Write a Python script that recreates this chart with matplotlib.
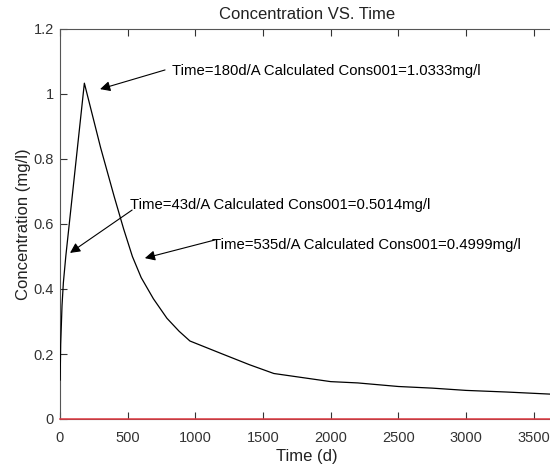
import matplotlib
matplotlib.use("Agg")
import matplotlib.pyplot as plt

plt.rcParams['font.family'] = ['Liberation Sans', 'DejaVu Sans']

# concentration curve
time_d = [1, 5, 15, 25, 43, 180, 300, 400, 470, 535, 600, 690, 790, 880, 960,
          1200, 1400, 1580, 2000, 2200, 2500, 2750, 3000, 3300, 3650]
conc = [0.12, 0.23, 0.35, 0.42, 0.5014, 1.0333, 0.835, 0.685, 0.585, 0.4999, 0.435,
        0.37, 0.31, 0.27, 0.24, 0.20, 0.167, 0.14, 0.115, 0.111, 0.10, 0.095,
        0.088, 0.083, 0.076]

notes_txt = ["Time=180d/A Calculated Cons001=1.0333mg/l",
             "Time=43d/A Calculated Cons001=0.5014mg/l",
             "Time=535d/A Calculated Cons001=0.4999mg/l"]
# where each label starts, and where its arrow runs from / to
text_xy = [(828, 1.071), (518, 0.658), (1124, 0.535)]
arrow_from = [(776, 1.074), (533, 0.643), (1146, 0.551)]
arrow_to = [(296, 1.015), (74, 0.511), (627, 0.495)]

xticks = [0, 500, 1000, 1500, 2000, 2500, 3000, 3500]
yticks = [0, 0.2, 0.4, 0.6, 0.8, 1.0, 1.2]
ylabels = ["0", "0.2", "0.4", "0.6", "0.8", "1", "1.2"]

fig = plt.figure(figsize=(5.5, 4.66), dpi=100)
# right edge of the axes sits just past the image edge
ax = fig.add_axes([60/550, 47/466, 494/550, 390/466])

ax.plot([0, 3650], [0, 0], color='#e03840', lw=1.1, zorder=3, clip_on=False)
ax.plot(time_d, conc, color='black', lw=0.9, zorder=4)

for i in range(3):
    ax.annotate("", xy=arrow_to[i], xytext=arrow_from[i],
                arrowprops=dict(arrowstyle='-|>', color='black', lw=0.8,
                                mutation_scale=15, shrinkA=0, shrinkB=0))
    ax.text(text_xy[i][0], text_xy[i][1], notes_txt[i], fontsize=10.7,
            va='center', ha='left', color='black')

ax.set_xlim(0, 3650)
ax.set_ylim(0, 1.2)
ax.set_xticks(xticks)
ax.set_xticklabels([str(v) for v in xticks])
ax.set_yticks(yticks)
ax.set_yticklabels(ylabels)
ax.tick_params(direction='in', top=True, right=False, length=5,
               labelsize=10.5, colors='#333333')
ax.tick_params(axis='x', pad=8.5)
ax.tick_params(axis='y', pad=4.5)
for s in ['left', 'top', 'bottom']:
    ax.spines[s].set_color('#555555')
ax.spines['right'].set_visible(False)

ax.set_xlabel("Time (d)", fontsize=12, color='#222222', labelpad=3)
ax.set_ylabel("Concentration (mg/l)", fontsize=12, color='#222222', labelpad=2)
ax.set_title("Concentration VS. Time", fontsize=12, color='#222222', pad=7)

fig.savefig("out.png", dpi=100)
